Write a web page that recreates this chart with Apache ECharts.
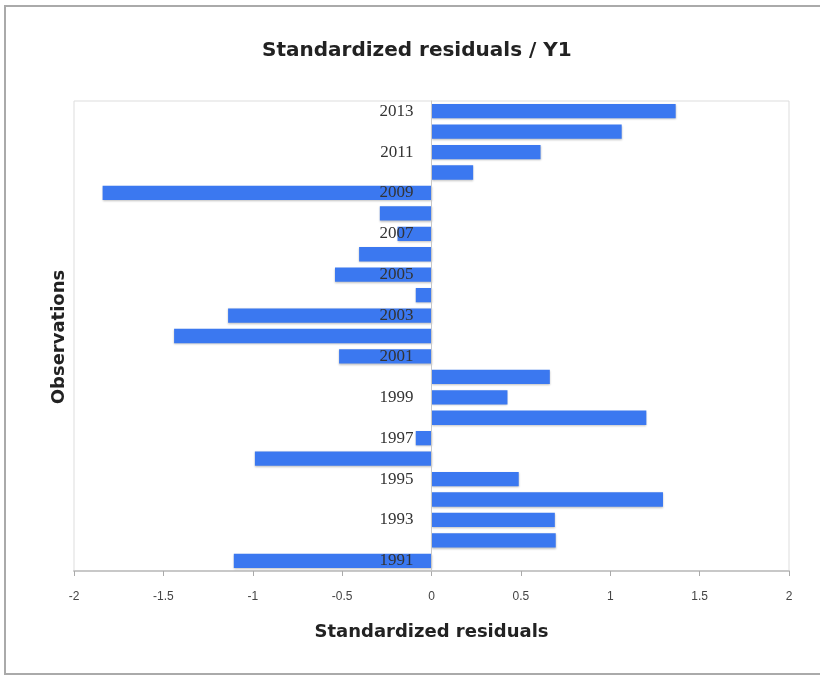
<!DOCTYPE html>
<html>
<head>
<meta charset="utf-8">
<script src="https://cdn.jsdelivr.net/npm/echarts@6/dist/echarts.min.js"></script>
<style>html,body{margin:0;padding:0;background:#fff;}#c{width:820px;height:677px;}</style>
</head>
<body>
<div id="c"></div>
<script>
const years = ['1991','1992','1993','1994','1995','1996','1997','1998','1999','2000','2001','2002','2003','2004','2005','2006','2007','2008','2009','2010','2011','2012','2013'];
const residuals = [-1.106, 0.695, 0.69, 1.295, 0.488, -0.988, -0.088, 1.202, 0.425, 0.662, -0.517, -1.44, -1.138, -0.088, -0.54, -0.405, -0.19, -0.289, -1.84, 0.233, 0.61, 1.064, 1.366];
const xTicks = [-2, -1.5, -1, -0.5, 0, 0.5, 1, 1.5, 2];

const gridLeft = 74;
const chart = echarts.init(document.getElementById('c'), null, {renderer: 'canvas'});
chart.setOption({
  animation: false,
  backgroundColor: '#fff',
  title: {
    text: 'Standardized residuals / Y1',
    left: 257, top: 36,
    textStyle: {fontFamily: 'DejaVu Sans', fontSize: 20, fontWeight: 'bold', color: '#222'}
  },
  graphic: [
    {type: 'rect', shape: {x: 5, y: 6, width: 830, height: 668}, style: {fill: 'none', stroke: '#aaa', lineWidth: 2}, silent: true},
    {type: 'text', x: 59, y: 337, rotation: Math.PI / 2,
     style: {text: 'Observations', fontFamily: 'DejaVu Sans', fontSize: 18, fontWeight: 'bold', fill: '#222', align: 'center', verticalAlign: 'middle'}}
  ],
  grid: {left: gridLeft, right: 31, top: 101, bottom: 106, show: true, borderColor: '#ddd', borderWidth: 1},
  xAxis: {
    type: 'value', min: xTicks[0], max: xTicks[xTicks.length - 1], interval: 0.5,
    name: 'Standardized residuals', nameLocation: 'middle', nameGap: 52,
    nameTextStyle: {fontFamily: 'DejaVu Sans', fontSize: 18, fontWeight: 'bold', color: '#222'},
    axisLine: {show: true, onZero: false, lineStyle: {color: '#c8c8c8', width: 2}},
    axisTick: {show: true, length: 5, lineStyle: {color: '#aaa'}},
    splitLine: {show: false},
    axisLabel: {margin: 20, fontFamily: 'Liberation Sans, Arial', fontSize: 12, color: '#444'}
  },
  yAxis: {
    type: 'category', data: years, z: 10,
    axisLine: {show: true, onZero: false, lineStyle: {color: '#c8c8c8', width: 1}},
    axisTick: {show: false},
    axisLabel: {interval: 1, margin: 18, fontFamily: 'Liberation Serif, Times New Roman', fontSize: 17, color: '#333'}
  },
  series: [{
    type: 'bar', data: residuals, barCategoryGap: '30%',
    itemStyle: {color: '#3B78F0', shadowBlur: 2, shadowColor: 'rgba(0,0,0,0.25)', shadowOffsetY: 1}
  }]
});
// place the category axis where the value axis is zero
const zeroPx = chart.convertToPixel({xAxisIndex: 0}, 0);
chart.setOption({yAxis: {offset: -(zeroPx - gridLeft)}});
</script>
</body>
</html>
